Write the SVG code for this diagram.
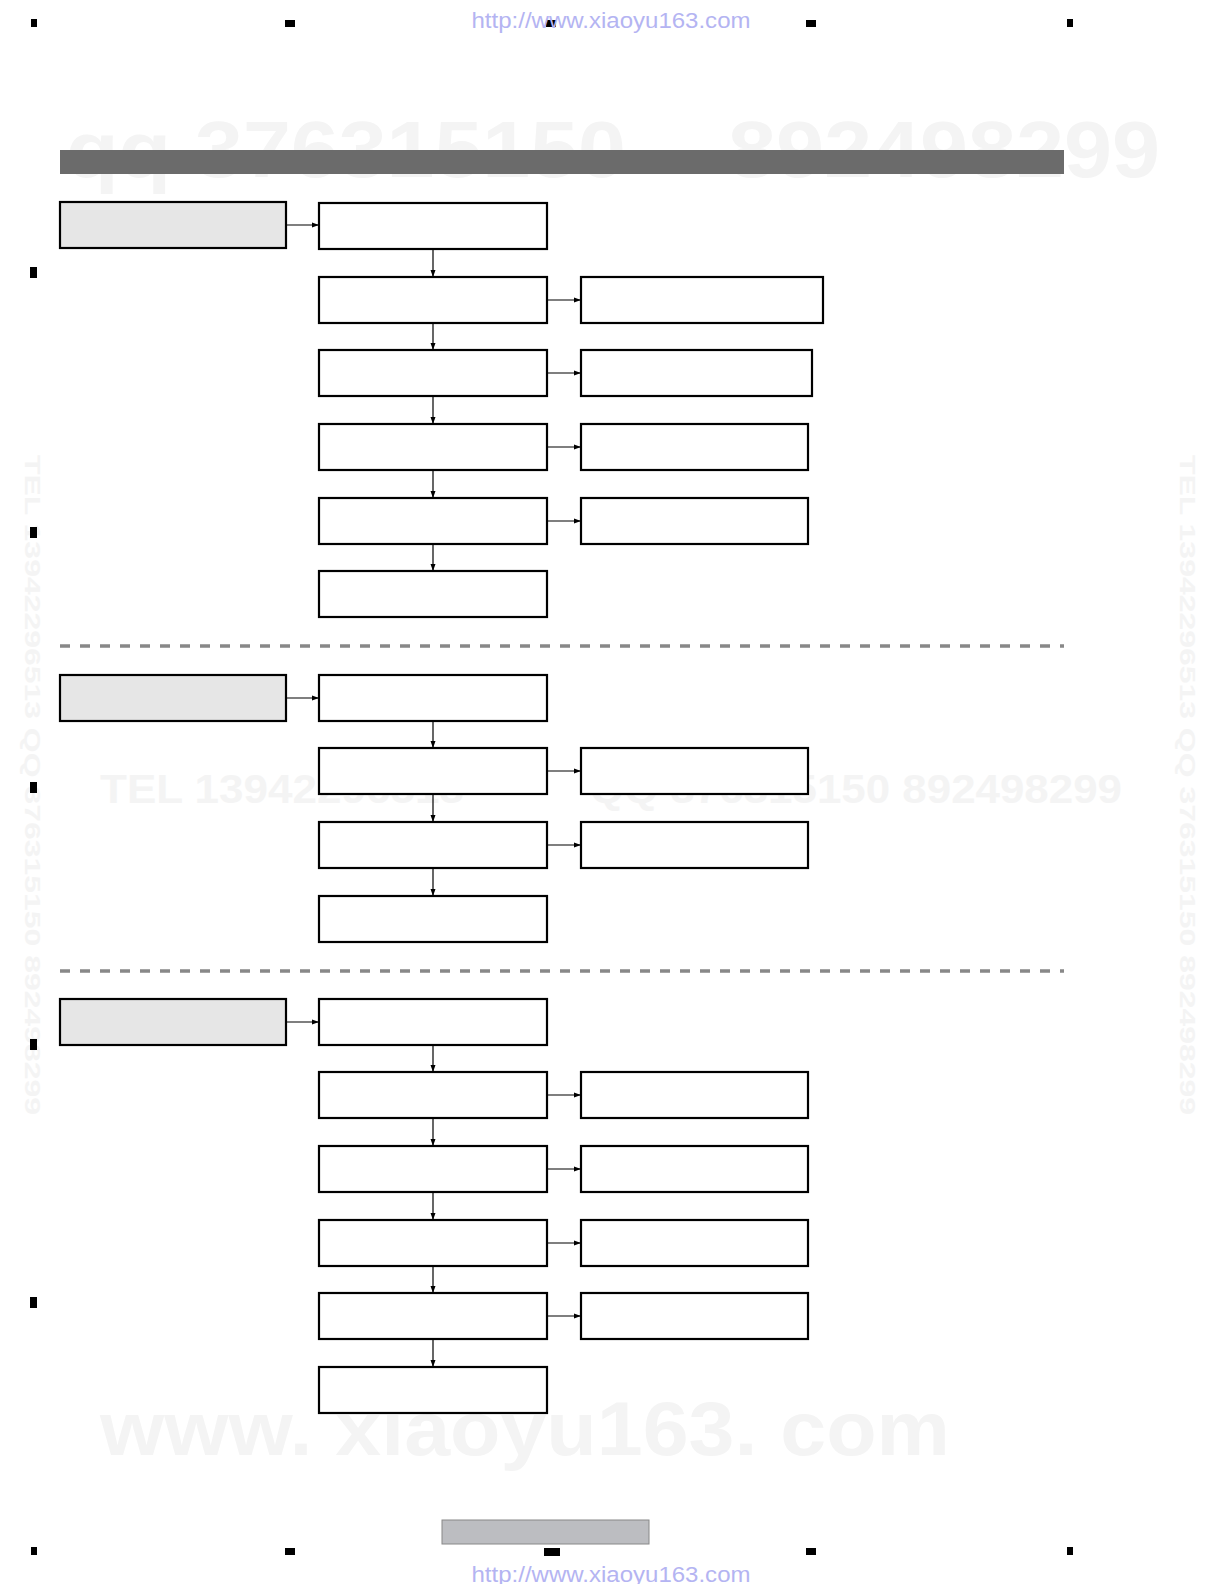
<svg xmlns="http://www.w3.org/2000/svg" width="1224" height="1584" viewBox="0 0 1224 1584">
<style>
.box{fill:#fff;stroke:#000;stroke-width:2.2}
.gbox{fill:#e6e6e6;stroke:#000;stroke-width:2.2}
.con{stroke:#000;stroke-width:1.2;fill:none;marker-end:url(#ah)}
.dash{stroke:#888;stroke-width:3.5;stroke-dasharray:10 10;fill:none}
.mark{fill:#000}
.url{font-family:"Liberation Sans",Arial,sans-serif;font-size:22px;fill:#b4b4f2}
.wm{font-family:"Liberation Sans",Arial,sans-serif;font-weight:bold;fill:#f4f4f4}
</style>
<defs>
<marker id="ah" markerWidth="8" markerHeight="6" refX="7" refY="3" orient="auto" markerUnits="userSpaceOnUse">
<path d="M0,0.5 L7,3 L0,5.5 Z" fill="#000"/>
</marker>
</defs>
<rect width="1224" height="1584" fill="#fff"/>
<g id="watermarks">
<text class="wm" x="66" y="177" font-size="80" textLength="560" lengthAdjust="spacingAndGlyphs">qq 376315150</text>
<text class="wm" x="728" y="177" font-size="80" textLength="432" lengthAdjust="spacingAndGlyphs">892498299</text>
<text class="wm" x="100" y="803" font-size="40" textLength="364" lengthAdjust="spacingAndGlyphs">TEL 13942296513</text>
<text class="wm" x="590" y="803" font-size="40" textLength="532" lengthAdjust="spacingAndGlyphs">QQ 376315150 892498299</text>
<text class="wm" x="100" y="1455" font-size="76" textLength="850" lengthAdjust="spacingAndGlyphs">www. xiaoyu163. com</text>
<text class="wm" x="0" y="0" font-size="22" textLength="660" lengthAdjust="spacingAndGlyphs" transform="translate(25,455) rotate(90)">TEL 13942296513  QQ 376315150 892498299</text>
<text class="wm" x="0" y="0" font-size="22" textLength="660" lengthAdjust="spacingAndGlyphs" transform="translate(1180,455) rotate(90)">TEL 13942296513  QQ 376315150 892498299</text>
</g>
<g id="page-marks">
<rect class="mark" x="31" y="19" width="6" height="8"/>
<rect class="mark" x="285" y="20" width="10" height="7"/>
<rect class="mark" x="546" y="20" width="10" height="7"/>
<rect class="mark" x="806" y="20" width="10" height="7"/>
<rect class="mark" x="1067" y="19" width="6" height="8"/>
<rect class="mark" x="30" y="267" width="7" height="11"/>
<rect class="mark" x="30" y="527" width="7" height="11"/>
<rect class="mark" x="30" y="782" width="7" height="11"/>
<rect class="mark" x="30" y="1039" width="7" height="11"/>
<rect class="mark" x="30" y="1297" width="7" height="11"/>
<rect class="mark" x="31" y="1547" width="6" height="8"/>
<rect class="mark" x="285" y="1548" width="10" height="7"/>
<rect class="mark" x="544" y="1548" width="16" height="8"/>
<rect class="mark" x="806" y="1548" width="10" height="7"/>
<rect class="mark" x="1067" y="1547" width="6" height="8"/>
</g>
<text class="url" x="611" y="28" text-anchor="middle" textLength="279" lengthAdjust="spacingAndGlyphs">http://www.xiaoyu163.com</text>
<text class="url" x="611" y="1582" text-anchor="middle" textLength="279" lengthAdjust="spacingAndGlyphs">http://www.xiaoyu163.com</text>
<rect id="header-bar" x="60" y="150" width="1004" height="24" fill="#6b6b6b"/>
<rect id="footer-bar" x="442" y="1520" width="207" height="24" fill="#bcbdc1" stroke="#888" stroke-width="1"/>
<g id="separators">
<line class="dash" x1="60" y1="646" x2="1064" y2="646"/>
<line class="dash" x1="60" y1="971" x2="1064" y2="971"/>
</g>
<g id="connectors">
<line class="con" x1="286" y1="225" x2="319" y2="225"/>
<line class="con" x1="433" y1="249" x2="433" y2="277"/>
<line class="con" x1="433" y1="323" x2="433" y2="350"/>
<line class="con" x1="433" y1="396" x2="433" y2="424"/>
<line class="con" x1="433" y1="470" x2="433" y2="498"/>
<line class="con" x1="433" y1="544" x2="433" y2="571"/>
<line class="con" x1="547" y1="300" x2="581" y2="300"/>
<line class="con" x1="547" y1="373" x2="581" y2="373"/>
<line class="con" x1="547" y1="447" x2="581" y2="447"/>
<line class="con" x1="547" y1="521" x2="581" y2="521"/>
<line class="con" x1="286" y1="698" x2="319" y2="698"/>
<line class="con" x1="433" y1="721" x2="433" y2="748"/>
<line class="con" x1="433" y1="794" x2="433" y2="822"/>
<line class="con" x1="433" y1="868" x2="433" y2="896"/>
<line class="con" x1="547" y1="771" x2="581" y2="771"/>
<line class="con" x1="547" y1="845" x2="581" y2="845"/>
<line class="con" x1="286" y1="1022" x2="319" y2="1022"/>
<line class="con" x1="433" y1="1045" x2="433" y2="1072"/>
<line class="con" x1="433" y1="1118" x2="433" y2="1146"/>
<line class="con" x1="433" y1="1192" x2="433" y2="1220"/>
<line class="con" x1="433" y1="1266" x2="433" y2="1293"/>
<line class="con" x1="433" y1="1339" x2="433" y2="1367"/>
<line class="con" x1="547" y1="1095" x2="581" y2="1095"/>
<line class="con" x1="547" y1="1169" x2="581" y2="1169"/>
<line class="con" x1="547" y1="1243" x2="581" y2="1243"/>
<line class="con" x1="547" y1="1316" x2="581" y2="1316"/>
</g>
<g id="s1-start"><rect class="gbox" x="60" y="202" width="226" height="46"/></g>
<g id="s1-a1"><rect class="box" x="319" y="203" width="228" height="46"/></g>
<g id="s1-a2"><rect class="box" x="319" y="277" width="228" height="46"/></g>
<g id="s1-a3"><rect class="box" x="319" y="350" width="228" height="46"/></g>
<g id="s1-a4"><rect class="box" x="319" y="424" width="228" height="46"/></g>
<g id="s1-a5"><rect class="box" x="319" y="498" width="228" height="46"/></g>
<g id="s1-a6"><rect class="box" x="319" y="571" width="228" height="46"/></g>
<g id="s1-b2"><rect class="box" x="581" y="277" width="242" height="46"/></g>
<g id="s1-b3"><rect class="box" x="581" y="350" width="231" height="46"/></g>
<g id="s1-b4"><rect class="box" x="581" y="424" width="227" height="46"/></g>
<g id="s1-b5"><rect class="box" x="581" y="498" width="227" height="46"/></g>
<g id="s2-start"><rect class="gbox" x="60" y="675" width="226" height="46"/></g>
<g id="s2-a1"><rect class="box" x="319" y="675" width="228" height="46"/></g>
<g id="s2-a2"><rect class="box" x="319" y="748" width="228" height="46"/></g>
<g id="s2-a3"><rect class="box" x="319" y="822" width="228" height="46"/></g>
<g id="s2-a4"><rect class="box" x="319" y="896" width="228" height="46"/></g>
<g id="s2-b2"><rect class="box" x="581" y="748" width="227" height="46"/></g>
<g id="s2-b3"><rect class="box" x="581" y="822" width="227" height="46"/></g>
<g id="s3-start"><rect class="gbox" x="60" y="999" width="226" height="46"/></g>
<g id="s3-a1"><rect class="box" x="319" y="999" width="228" height="46"/></g>
<g id="s3-a2"><rect class="box" x="319" y="1072" width="228" height="46"/></g>
<g id="s3-a3"><rect class="box" x="319" y="1146" width="228" height="46"/></g>
<g id="s3-a4"><rect class="box" x="319" y="1220" width="228" height="46"/></g>
<g id="s3-a5"><rect class="box" x="319" y="1293" width="228" height="46"/></g>
<g id="s3-a6"><rect class="box" x="319" y="1367" width="228" height="46"/></g>
<g id="s3-b2"><rect class="box" x="581" y="1072" width="227" height="46"/></g>
<g id="s3-b3"><rect class="box" x="581" y="1146" width="227" height="46"/></g>
<g id="s3-b4"><rect class="box" x="581" y="1220" width="227" height="46"/></g>
<g id="s3-b5"><rect class="box" x="581" y="1293" width="227" height="46"/></g>
</svg>
